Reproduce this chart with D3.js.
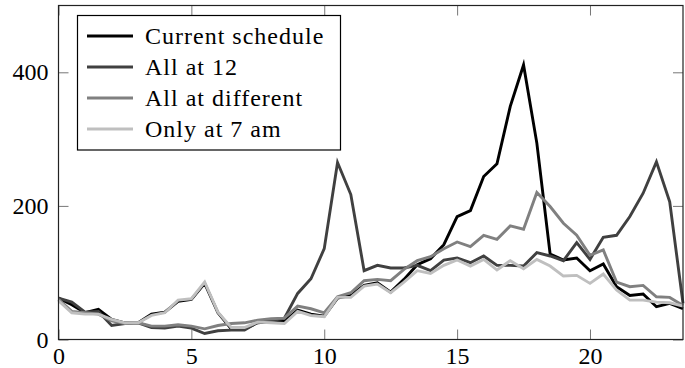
<!DOCTYPE html>
<html>
<head>
<meta charset="utf-8">
<script src="https://cdn.jsdelivr.net/npm/d3@7"></script>
<style>
  html, body { margin: 0; padding: 0; background: #fff; }
  svg { display: block; }
  svg text.serif { font-family: 'Liberation Serif', 'DejaVu Serif', serif !important; }
</style>
</head>
<body>
<svg id="chart" width="685" height="368" font-family="Liberation Serif"></svg>
<script>
// ---- data ----
const hours = [0,0.5,1,1.5,2,2.5,3,3.5,4,4.5,5,5.5,6,6.5,7,7.5,8,8.5,9,9.5,10,10.5,11,11.5,
               12,12.5,13,13.5,14,14.5,15,15.5,16,16.5,17,17.5,18,18.5,19,19.5,20,20.5,21,21.5,22,22.5,23,23.5];
const seriesNames = ["Current schedule", "All at 12", "All at different", "Only at 7 am"];
const currentSchedule = [62,52,40,45,30,25,25,38,41,57,60,84,40,16,16,25,27,27,44,38,35,62,66,81,
                         85,71,90,112,121,142,184,193,244,263,349,411,294,128,119,122,103,113,79,66,68,49,54,46];
const allAt12 = [62,56,41,42,21,24,25,18,17,20,17,9,13,14,14,26,28,32,69,91,136,265,217,103,
                 111,107,107,111,103,119,122,115,125,111,111,110,130,125,118,145,120,153,156,184,219,266,206,54];
const allAtDifferent = [60,42,40,38,28,24,25,20,20,22,20,16,21,24,25,29,31,32,50,46,40,64,70,88,
                        90,88,105,118,124,136,146,139,156,150,170,165,220,199,174,156,126,134,86,79,81,64,63,51];
const onlyAt7am = [58,40,38,38,30,25,25,36,40,59,61,86,41,18,18,26,25,24,42,36,34,63,63,80,
                   83,70,86,103,99,111,119,110,120,104,118,106,120,110,95,96,84,98,74,59,59,56,55,50];
const xTicks = [0,5,10,15,20];
const yTicks = [0,200,400];
const seriesColors = ["#000000", "#404040", "#808080", "#bfbfbf"];

(function () {
// ---- layout ----
const FONT = "Liberation Serif";
const svg = d3.select("#chart");
const pL = 58.5, pR = 683, pT = 5.5, pB = 339.5;
const x = d3.scaleLinear().domain([0, 23.5]).range([pL, pR]);
const y = d3.scaleLinear().domain([0, 500]).range([pB, pT]);

const allSeries = [currentSchedule, allAt12, allAtDifferent, onlyAt7am];

// lines
const line = d3.line().x((d, i) => x(hours[i])).y(d => y(d));
const g = svg.append("g");
allSeries.forEach((vals, k) => {
  g.append("path")
    .datum(vals)
    .attr("d", line)
    .attr("fill", "none")
    .attr("stroke", seriesColors[k])
    .attr("stroke-width", 2.9)
    .attr("stroke-linejoin", "miter")
    .attr("stroke-miterlimit", 10);
});

// axes (ticks inside on all four sides)
const tickLen = 10;
const fs = 24;
const axB = svg.append("g").attr("transform", `translate(0,${pB})`)
  .call(d3.axisBottom(x).tickValues(xTicks).tickSize(-tickLen).tickPadding(7).tickFormat(d3.format("d")));
const axT = svg.append("g").attr("transform", `translate(0,${pT})`)
  .call(d3.axisTop(x).tickValues(xTicks).tickSize(-tickLen).tickFormat(""));
const axL = svg.append("g").attr("transform", `translate(${pL},0)`)
  .call(d3.axisLeft(y).tickValues(yTicks).tickSize(-tickLen).tickPadding(10).tickFormat(d3.format("d")));
const axR = svg.append("g").attr("transform", `translate(${pR},0)`)
  .call(d3.axisRight(y).tickValues(yTicks).tickSize(-tickLen).tickFormat(""));
[axB, axT, axL, axR].forEach(a => {
  a.select(".domain").remove();
  a.attr("font-family", FONT).attr("font-size", fs);
  a.selectAll(".tick line").attr("stroke", "#777").attr("stroke-width", 1);
  a.selectAll(".tick text").classed("serif", true)
    .attr("font-family", FONT).style("font-family", FONT)
    .attr("font-size", fs).attr("fill", "#000");
});
axB.selectAll(".tick text").attr("dy", "0.71em");
axL.selectAll(".tick text").attr("dy", "0.32em");

// frame
svg.append("rect")
  .attr("x", pL).attr("y", pT)
  .attr("width", pR - pL).attr("height", pB - pT)
  .attr("fill", "none").attr("stroke", "#222").attr("stroke-width", 1.2);

// legend
const lg = svg.append("g");
lg.append("rect")
  .attr("x", 77.5).attr("y", 15.5).attr("width", 263).attr("height", 134.5)
  .attr("fill", "#fff").attr("stroke", "#000").attr("stroke-width", 1.2);
seriesNames.forEach((name, k) => {
  const cy = 36 + k * 31;
  lg.append("line")
    .attr("x1", 87).attr("x2", 133).attr("y1", cy).attr("y2", cy)
    .attr("stroke", seriesColors[k]).attr("stroke-width", 2.9);
  lg.append("text")
    .classed("serif", true)
    .attr("x", 145).attr("y", cy + 7.5)
    .attr("font-family", FONT)
    .style("font-family", FONT)
    .attr("font-size", fs)
    .attr("letter-spacing", 1)
    .attr("fill", "#000")
    .text(name);
});
})();
</script>
</body>
</html>
